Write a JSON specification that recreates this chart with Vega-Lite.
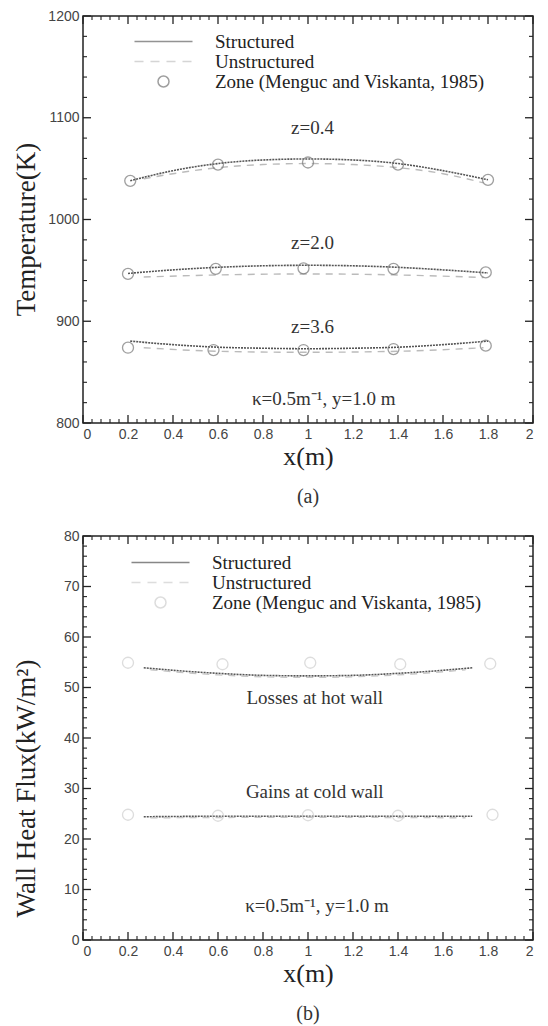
{
  "$schema": "https://vega.github.io/schema/vega-lite/v6.json",
  "padding": {"left": 11, "top": 8, "right": 8, "bottom": 4},
  "spacing": 20,
  "datasets": {
    "xMajor": [{"v": 0}, {"v": 0.2}, {"v": 0.4}, {"v": 0.6}, {"v": 0.8}, {"v": 1.0}, {"v": 1.2}, {"v": 1.4}, {"v": 1.6}, {"v": 1.8}, {"v": 2.0}],
    "xMinor": [
      {"v": 0.04}, {"v": 0.08}, {"v": 0.12}, {"v": 0.16}, {"v": 0.24}, {"v": 0.28}, {"v": 0.32}, {"v": 0.36},
      {"v": 0.44}, {"v": 0.48}, {"v": 0.52}, {"v": 0.56}, {"v": 0.64}, {"v": 0.68}, {"v": 0.72}, {"v": 0.76},
      {"v": 0.84}, {"v": 0.88}, {"v": 0.92}, {"v": 0.96}, {"v": 1.04}, {"v": 1.08}, {"v": 1.12}, {"v": 1.16},
      {"v": 1.24}, {"v": 1.28}, {"v": 1.32}, {"v": 1.36}, {"v": 1.44}, {"v": 1.48}, {"v": 1.52}, {"v": 1.56},
      {"v": 1.64}, {"v": 1.68}, {"v": 1.72}, {"v": 1.76}, {"v": 1.84}, {"v": 1.88}, {"v": 1.92}, {"v": 1.96}
    ],
    "tMajor": [{"v": 800}, {"v": 900}, {"v": 1000}, {"v": 1100}, {"v": 1200}],
    "tMinor": [
      {"v": 820}, {"v": 840}, {"v": 860}, {"v": 880}, {"v": 920}, {"v": 940}, {"v": 960}, {"v": 980},
      {"v": 1020}, {"v": 1040}, {"v": 1060}, {"v": 1080}, {"v": 1120}, {"v": 1140}, {"v": 1160}, {"v": 1180}
    ],
    "qMajor": [{"v": 0}, {"v": 10}, {"v": 20}, {"v": 30}, {"v": 40}, {"v": 50}, {"v": 60}, {"v": 70}, {"v": 80}],
    "qMinor": [
      {"v": 2}, {"v": 4}, {"v": 6}, {"v": 8}, {"v": 12}, {"v": 14}, {"v": 16}, {"v": 18},
      {"v": 22}, {"v": 24}, {"v": 26}, {"v": 28}, {"v": 32}, {"v": 34}, {"v": 36}, {"v": 38},
      {"v": 42}, {"v": 44}, {"v": 46}, {"v": 48}, {"v": 52}, {"v": 54}, {"v": 56}, {"v": 58},
      {"v": 62}, {"v": 64}, {"v": 66}, {"v": 68}, {"v": 72}, {"v": 74}, {"v": 76}, {"v": 78}
    ],
    "topStructured": [
      {"z": "0.4", "x": 0.21, "T": 1038}, {"z": "0.4", "x": 0.4, "T": 1048}, {"z": "0.4", "x": 0.6, "T": 1055}, {"z": "0.4", "x": 0.8, "T": 1058.5}, {"z": "0.4", "x": 1.0, "T": 1059.5}, {"z": "0.4", "x": 1.2, "T": 1058.5}, {"z": "0.4", "x": 1.4, "T": 1055}, {"z": "0.4", "x": 1.6, "T": 1048}, {"z": "0.4", "x": 1.8, "T": 1039},
      {"z": "2.0", "x": 0.2, "T": 947}, {"z": "2.0", "x": 0.4, "T": 950.5}, {"z": "2.0", "x": 0.6, "T": 953}, {"z": "2.0", "x": 0.8, "T": 954.5}, {"z": "2.0", "x": 1.0, "T": 955}, {"z": "2.0", "x": 1.2, "T": 954.5}, {"z": "2.0", "x": 1.4, "T": 953}, {"z": "2.0", "x": 1.6, "T": 950.5}, {"z": "2.0", "x": 1.8, "T": 947.5},
      {"z": "3.6", "x": 0.21, "T": 880.5}, {"z": "3.6", "x": 0.4, "T": 877}, {"z": "3.6", "x": 0.6, "T": 874.5}, {"z": "3.6", "x": 0.8, "T": 873.5}, {"z": "3.6", "x": 1.0, "T": 873}, {"z": "3.6", "x": 1.2, "T": 873.5}, {"z": "3.6", "x": 1.4, "T": 874.5}, {"z": "3.6", "x": 1.6, "T": 877}, {"z": "3.6", "x": 1.8, "T": 880.5}
    ],
    "topUnstructured": [
      {"z": "0.4", "x": 0.27, "T": 1040}, {"z": "0.4", "x": 0.4, "T": 1045}, {"z": "0.4", "x": 0.6, "T": 1051}, {"z": "0.4", "x": 0.8, "T": 1054}, {"z": "0.4", "x": 1.0, "T": 1055}, {"z": "0.4", "x": 1.2, "T": 1054}, {"z": "0.4", "x": 1.4, "T": 1051}, {"z": "0.4", "x": 1.6, "T": 1045}, {"z": "0.4", "x": 1.78, "T": 1036},
      {"z": "2.0", "x": 0.27, "T": 943.5}, {"z": "2.0", "x": 0.6, "T": 945.5}, {"z": "2.0", "x": 1.0, "T": 946.5}, {"z": "2.0", "x": 1.4, "T": 945.5}, {"z": "2.0", "x": 1.78, "T": 943},
      {"z": "3.6", "x": 0.27, "T": 874}, {"z": "3.6", "x": 0.6, "T": 870.5}, {"z": "3.6", "x": 1.0, "T": 869.5}, {"z": "3.6", "x": 1.4, "T": 870.5}, {"z": "3.6", "x": 1.78, "T": 874}
    ],
    "topZone": [
      {"series": "Zone (Menguc and Viskanta, 1985)", "x": 0.21, "T": 1038}, {"series": "Zone (Menguc and Viskanta, 1985)", "x": 0.6, "T": 1054}, {"series": "Zone (Menguc and Viskanta, 1985)", "x": 1.0, "T": 1056}, {"series": "Zone (Menguc and Viskanta, 1985)", "x": 1.4, "T": 1054}, {"series": "Zone (Menguc and Viskanta, 1985)", "x": 1.8, "T": 1039},
      {"series": "Zone (Menguc and Viskanta, 1985)", "x": 0.2, "T": 946.5}, {"series": "Zone (Menguc and Viskanta, 1985)", "x": 0.59, "T": 951.5}, {"series": "Zone (Menguc and Viskanta, 1985)", "x": 0.98, "T": 952}, {"series": "Zone (Menguc and Viskanta, 1985)", "x": 1.38, "T": 951.5}, {"series": "Zone (Menguc and Viskanta, 1985)", "x": 1.79, "T": 948},
      {"series": "Zone (Menguc and Viskanta, 1985)", "x": 0.2, "T": 874}, {"series": "Zone (Menguc and Viskanta, 1985)", "x": 0.58, "T": 871.7}, {"series": "Zone (Menguc and Viskanta, 1985)", "x": 0.98, "T": 871.7}, {"series": "Zone (Menguc and Viskanta, 1985)", "x": 1.38, "T": 872.7}, {"series": "Zone (Menguc and Viskanta, 1985)", "x": 1.79, "T": 876}
    ],
    "topLabels": [
      {"x": 1.02, "T": 1090, "label": "z=0.4"},
      {"x": 1.02, "T": 977, "label": "z=2.0"},
      {"x": 1.02, "T": 894.5, "label": "z=3.6"},
      {"x": 1.07, "T": 824, "label": "κ=0.5m⁻¹, y=1.0 m"}
    ],
    "botStructured": [
      {"w": "hot", "x": 0.27, "q": 53.9}, {"w": "hot", "x": 0.4, "q": 53.4}, {"w": "hot", "x": 0.6, "q": 52.8}, {"w": "hot", "x": 0.8, "q": 52.4}, {"w": "hot", "x": 1.0, "q": 52.3}, {"w": "hot", "x": 1.2, "q": 52.4}, {"w": "hot", "x": 1.4, "q": 52.8}, {"w": "hot", "x": 1.6, "q": 53.4}, {"w": "hot", "x": 1.73, "q": 53.9},
      {"w": "cold", "x": 0.27, "q": 24.4}, {"w": "cold", "x": 0.6, "q": 24.5}, {"w": "cold", "x": 1.0, "q": 24.5}, {"w": "cold", "x": 1.4, "q": 24.5}, {"w": "cold", "x": 1.73, "q": 24.5}
    ],
    "botUnstructured": [
      {"w": "hot", "x": 0.3, "q": 53.5}, {"w": "hot", "x": 0.6, "q": 52.5}, {"w": "hot", "x": 1.0, "q": 52.0}, {"w": "hot", "x": 1.4, "q": 52.5}, {"w": "hot", "x": 1.7, "q": 53.5},
      {"w": "cold", "x": 0.3, "q": 24.2}, {"w": "cold", "x": 1.0, "q": 24.3}, {"w": "cold", "x": 1.7, "q": 24.2}
    ],
    "botZone": [
      {"series": "Zone (Menguc and Viskanta, 1985)", "x": 0.2, "q": 54.9}, {"series": "Zone (Menguc and Viskanta, 1985)", "x": 0.62, "q": 54.6}, {"series": "Zone (Menguc and Viskanta, 1985)", "x": 1.01, "q": 54.9}, {"series": "Zone (Menguc and Viskanta, 1985)", "x": 1.41, "q": 54.6}, {"series": "Zone (Menguc and Viskanta, 1985)", "x": 1.81, "q": 54.7},
      {"series": "Zone (Menguc and Viskanta, 1985)", "x": 0.2, "q": 24.8}, {"series": "Zone (Menguc and Viskanta, 1985)", "x": 0.6, "q": 24.6}, {"series": "Zone (Menguc and Viskanta, 1985)", "x": 1.0, "q": 24.7}, {"series": "Zone (Menguc and Viskanta, 1985)", "x": 1.4, "q": 24.6}, {"series": "Zone (Menguc and Viskanta, 1985)", "x": 1.82, "q": 24.8}
    ],
    "botLabels": [
      {"x": 1.03, "q": 48, "label": "Losses at hot wall"},
      {"x": 1.03, "q": 29.4, "label": "Gains at cold wall"},
      {"x": 1.04, "q": 6.7, "label": "κ=0.5m⁻¹, y=1.0 m"}
    ]
  },
  "vconcat": [
    {
      "width": 450,
      "height": 407,
      "title": {"text": "(a)", "orient": "bottom", "font": "Liberation Serif", "fontSize": 20, "fontWeight": "normal", "color": "#333", "offset": 18},
      "layer": [
        {
          "data": {"name": "topStructured"},
          "mark": {"type": "line", "color": "#555", "strokeWidth": 1.6, "strokeDash": [2, 1], "interpolate": "monotone"},
          "encoding": {
            "x": {"field": "x", "type": "quantitative", "scale": {"domain": [0, 2], "nice": false},
              "axis": {"orient": "bottom", "title": "x(m)", "titleFontSize": 26, "titlePadding": 2,
                "values": [0,0.2,0.4,0.6,0.8,1,1.2,1.4,1.6,1.8,2], "format": "~g",
                "ticks": false, "domain": false, "labelPadding": 4}},
            "y": {"field": "T", "type": "quantitative", "scale": {"domain": [800, 1200], "nice": false},
              "axis": {"orient": "left", "title": "Temperature(K)", "titleFontSize": 27, "titleX": -57, "titleBaseline": "middle", "titleY": 213,
                "values": [800,900,1000,1100,1200], "format": "d",
                "ticks": false, "domain": false, "labelPadding": 4}},
            "detail": {"field": "z"}
          }
        },
        {
          "data": {"name": "topUnstructured"},
          "mark": {"type": "line", "color": "#bbb", "strokeWidth": 1.4, "strokeDash": [7, 6], "interpolate": "monotone"},
          "encoding": {
            "x": {"field": "x", "type": "quantitative"},
            "y": {"field": "T", "type": "quantitative"},
            "detail": {"field": "z"}
          }
        },
        {"data": {"name": "xMajor"}, "mark": {"type": "point", "shape": "M0,-1V1", "filled": false, "stroke": "#222", "strokeWidth": 1.3, "opacity": 1, "size": 64, "yOffset": -4},
         "encoding": {"x": {"field": "v", "type": "quantitative"}, "y": {"datum": 800, "type": "quantitative"}}},
        {"data": {"name": "xMinor"}, "mark": {"type": "point", "shape": "M0,-1V1", "filled": false, "stroke": "#222", "strokeWidth": 1.1, "opacity": 1, "size": 16, "yOffset": -2},
         "encoding": {"x": {"field": "v", "type": "quantitative"}, "y": {"datum": 800, "type": "quantitative"}}},
        {"data": {"name": "xMajor"}, "mark": {"type": "point", "shape": "M0,-1V1", "filled": false, "stroke": "#222", "strokeWidth": 1.3, "opacity": 1, "size": 64, "yOffset": 4},
         "encoding": {"x": {"field": "v", "type": "quantitative"}, "y": {"datum": 1200, "type": "quantitative"}}},
        {"data": {"name": "xMinor"}, "mark": {"type": "point", "shape": "M0,-1V1", "filled": false, "stroke": "#222", "strokeWidth": 1.1, "opacity": 1, "size": 16, "yOffset": 2},
         "encoding": {"x": {"field": "v", "type": "quantitative"}, "y": {"datum": 1200, "type": "quantitative"}}},
        {"data": {"name": "tMajor"}, "mark": {"type": "point", "shape": "M-1,0H1", "filled": false, "stroke": "#222", "strokeWidth": 1.3, "opacity": 1, "size": 64, "xOffset": 4},
         "encoding": {"y": {"field": "v", "type": "quantitative"}, "x": {"datum": 0, "type": "quantitative"}}},
        {"data": {"name": "tMinor"}, "mark": {"type": "point", "shape": "M-1,0H1", "filled": false, "stroke": "#222", "strokeWidth": 1.1, "opacity": 1, "size": 16, "xOffset": 2},
         "encoding": {"y": {"field": "v", "type": "quantitative"}, "x": {"datum": 0, "type": "quantitative"}}},
        {"data": {"name": "tMajor"}, "mark": {"type": "point", "shape": "M-1,0H1", "filled": false, "stroke": "#222", "strokeWidth": 1.3, "opacity": 1, "size": 64, "xOffset": -4},
         "encoding": {"y": {"field": "v", "type": "quantitative"}, "x": {"datum": 2, "type": "quantitative"}}},
        {"data": {"name": "tMinor"}, "mark": {"type": "point", "shape": "M-1,0H1", "filled": false, "stroke": "#222", "strokeWidth": 1.1, "opacity": 1, "size": 16, "xOffset": -2},
         "encoding": {"y": {"field": "v", "type": "quantitative"}, "x": {"datum": 2, "type": "quantitative"}}},
        {
          "data": {"name": "topZone"},
          "mark": {"type": "point", "filled": false, "strokeWidth": 1.3, "size": 100},
          "encoding": {
            "x": {"field": "x", "type": "quantitative"},
            "y": {"field": "T", "type": "quantitative"},
            "color": {"field": "series", "type": "nominal",
              "scale": {"domain": ["Structured", "Unstructured", "Zone (Menguc and Viskanta, 1985)"], "range": ["#666", "#c4c4c4", "#777"]},
              "legend": {"title": null, "orient": "none", "legendX": 71, "legendY": 16, "symbolSize": 100, "symbolStrokeWidth": 1.5, "labelFont": "Liberation Serif", "labelFontSize": 19, "labelColor": "#222", "labelOffset": 42, "labelLimit": 500, "rowPadding": -1}},
            "shape": {"field": "series", "type": "nominal",
              "scale": {"domain": ["Structured", "Unstructured", "Zone (Menguc and Viskanta, 1985)"], "range": ["M-5.8,0H5.8", "M-5.8,0H-4M-2.6,0H-0.8M0.6,0H2.4M3.8,0H5.6", "M-1.1,0A1.1,1.1,0,1,1,1.1,0A1.1,1.1,0,1,1,-1.1,0Z"]},
              "legend": {"title": null, "orient": "none", "legendX": 71, "legendY": 16, "symbolSize": 100, "symbolStrokeWidth": 1.5, "labelFont": "Liberation Serif", "labelFontSize": 19, "labelColor": "#222", "labelOffset": 42, "labelLimit": 500, "rowPadding": -1}}
          }
        },
        {
          "data": {"name": "topLabels"},
          "mark": {"type": "text", "font": "Liberation Serif", "fontSize": 19, "color": "#333", "baseline": "middle", "align": "center"},
          "encoding": {
            "x": {"field": "x", "type": "quantitative"},
            "y": {"field": "T", "type": "quantitative"},
            "text": {"field": "label"}
          }
        }
      ]
    },
    {
      "width": 450,
      "height": 404,
      "title": {"text": "(b)", "orient": "bottom", "font": "Liberation Serif", "fontSize": 20, "fontWeight": "normal", "color": "#333", "offset": 18},
      "layer": [
        {
          "data": {"name": "botStructured"},
          "mark": {"type": "line", "color": "#555", "strokeWidth": 1.6, "strokeDash": [2, 1], "interpolate": "monotone"},
          "encoding": {
            "x": {"field": "x", "type": "quantitative", "scale": {"domain": [0, 2], "nice": false},
              "axis": {"orient": "bottom", "title": "x(m)", "titleFontSize": 26, "titlePadding": 2,
                "values": [0,0.2,0.4,0.6,0.8,1,1.2,1.4,1.6,1.8,2], "format": "~g",
                "ticks": false, "domain": false, "labelPadding": 4}},
            "y": {"field": "q", "type": "quantitative", "scale": {"domain": [0, 80], "nice": false},
              "axis": {"orient": "left", "title": "Wall Heat Flux(kW/m²)", "titleFontSize": 27, "titleX": -57, "titleBaseline": "middle", "titleY": 252,
                "values": [0,10,20,30,40,50,60,70,80], "format": "d",
                "ticks": false, "domain": false, "labelPadding": 4}},
            "detail": {"field": "w"}
          }
        },
        {
          "data": {"name": "botUnstructured"},
          "mark": {"type": "line", "color": "#c4c4c4", "strokeWidth": 1.4, "strokeDash": [7, 6], "interpolate": "monotone"},
          "encoding": {
            "x": {"field": "x", "type": "quantitative"},
            "y": {"field": "q", "type": "quantitative"},
            "detail": {"field": "w"}
          }
        },
        {"data": {"name": "xMajor"}, "mark": {"type": "point", "shape": "M0,-1V1", "filled": false, "stroke": "#222", "strokeWidth": 1.3, "opacity": 1, "size": 64, "yOffset": -4},
         "encoding": {"x": {"field": "v", "type": "quantitative"}, "y": {"datum": 0, "type": "quantitative"}}},
        {"data": {"name": "xMinor"}, "mark": {"type": "point", "shape": "M0,-1V1", "filled": false, "stroke": "#222", "strokeWidth": 1.1, "opacity": 1, "size": 16, "yOffset": -2},
         "encoding": {"x": {"field": "v", "type": "quantitative"}, "y": {"datum": 0, "type": "quantitative"}}},
        {"data": {"name": "xMajor"}, "mark": {"type": "point", "shape": "M0,-1V1", "filled": false, "stroke": "#222", "strokeWidth": 1.3, "opacity": 1, "size": 64, "yOffset": 4},
         "encoding": {"x": {"field": "v", "type": "quantitative"}, "y": {"datum": 80, "type": "quantitative"}}},
        {"data": {"name": "xMinor"}, "mark": {"type": "point", "shape": "M0,-1V1", "filled": false, "stroke": "#222", "strokeWidth": 1.1, "opacity": 1, "size": 16, "yOffset": 2},
         "encoding": {"x": {"field": "v", "type": "quantitative"}, "y": {"datum": 80, "type": "quantitative"}}},
        {"data": {"name": "qMajor"}, "mark": {"type": "point", "shape": "M-1,0H1", "filled": false, "stroke": "#222", "strokeWidth": 1.3, "opacity": 1, "size": 64, "xOffset": 4},
         "encoding": {"y": {"field": "v", "type": "quantitative"}, "x": {"datum": 0, "type": "quantitative"}}},
        {"data": {"name": "qMinor"}, "mark": {"type": "point", "shape": "M-1,0H1", "filled": false, "stroke": "#222", "strokeWidth": 1.1, "opacity": 1, "size": 16, "xOffset": 2},
         "encoding": {"y": {"field": "v", "type": "quantitative"}, "x": {"datum": 0, "type": "quantitative"}}},
        {"data": {"name": "qMajor"}, "mark": {"type": "point", "shape": "M-1,0H1", "filled": false, "stroke": "#222", "strokeWidth": 1.3, "opacity": 1, "size": 64, "xOffset": -4},
         "encoding": {"y": {"field": "v", "type": "quantitative"}, "x": {"datum": 2, "type": "quantitative"}}},
        {"data": {"name": "qMinor"}, "mark": {"type": "point", "shape": "M-1,0H1", "filled": false, "stroke": "#222", "strokeWidth": 1.1, "opacity": 1, "size": 16, "xOffset": -2},
         "encoding": {"y": {"field": "v", "type": "quantitative"}, "x": {"datum": 2, "type": "quantitative"}}},
        {
          "data": {"name": "botZone"},
          "mark": {"type": "point", "filled": false, "strokeWidth": 1.3, "size": 100},
          "encoding": {
            "x": {"field": "x", "type": "quantitative"},
            "y": {"field": "q", "type": "quantitative"},
            "color": {"field": "series", "type": "nominal",
              "scale": {"domain": ["Structured", "Unstructured", "Zone (Menguc and Viskanta, 1985)"], "range": ["#555", "#d0d0d0", "#cfcfcf"]},
              "legend": {"title": null, "orient": "none", "legendX": 68, "legendY": 17, "symbolSize": 100, "symbolStrokeWidth": 1.5, "labelFont": "Liberation Serif", "labelFontSize": 19, "labelColor": "#222", "labelOffset": 42, "labelLimit": 500, "rowPadding": -1}},
            "shape": {"field": "series", "type": "nominal",
              "scale": {"domain": ["Structured", "Unstructured", "Zone (Menguc and Viskanta, 1985)"], "range": ["M-5.8,0H5.8", "M-5.8,0H-4M-2.6,0H-0.8M0.6,0H2.4M3.8,0H5.6", "M-1.1,0A1.1,1.1,0,1,1,1.1,0A1.1,1.1,0,1,1,-1.1,0Z"]},
              "legend": {"title": null, "orient": "none", "legendX": 68, "legendY": 17, "symbolSize": 100, "symbolStrokeWidth": 1.5, "labelFont": "Liberation Serif", "labelFontSize": 19, "labelColor": "#222", "labelOffset": 42, "labelLimit": 500, "rowPadding": -1}}
          }
        },
        {
          "data": {"name": "botLabels"},
          "mark": {"type": "text", "font": "Liberation Serif", "fontSize": 19, "color": "#333", "baseline": "middle", "align": "center"},
          "encoding": {
            "x": {"field": "x", "type": "quantitative"},
            "y": {"field": "q", "type": "quantitative"},
            "text": {"field": "label"}
          }
        }
      ]
    }
  ],
  "resolve": {"scale": {"color": "independent", "shape": "independent"}, "legend": {"color": "independent", "shape": "independent"}},
  "config": {
    "view": {"stroke": "#222", "strokeWidth": 1.5},
    "axis": {
      "grid": false,
      "labelFont": "Liberation Sans",
      "labelFontSize": 14,
      "labelColor": "#444",
      "titleFont": "Liberation Serif",
      "titleFontWeight": "normal",
      "titleColor": "#222"
    }
  }
}
